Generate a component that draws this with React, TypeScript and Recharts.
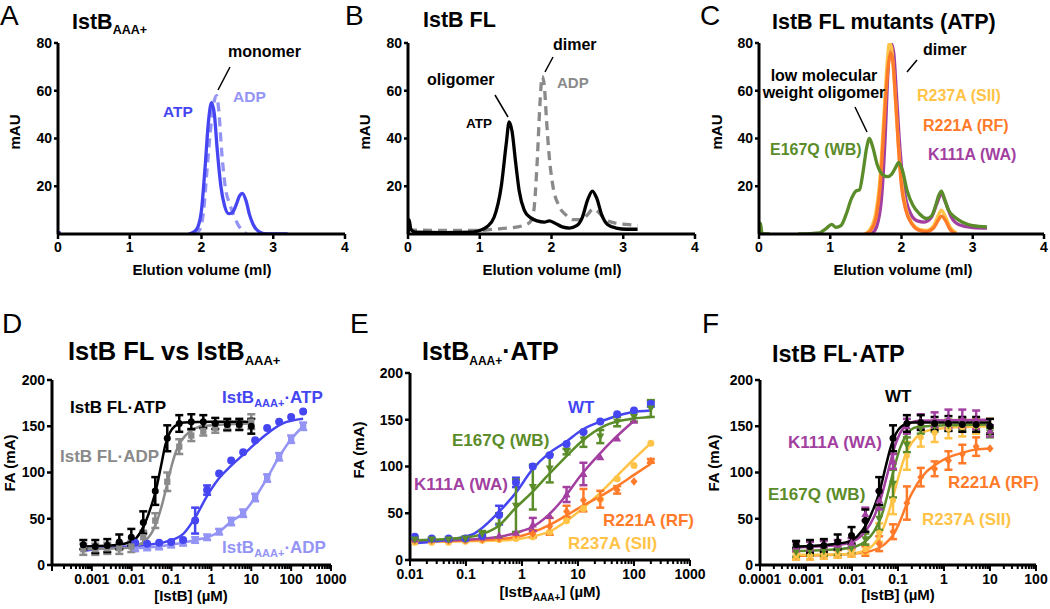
import React from 'react';
import { ComposedChart, Line, Scatter, XAxis, YAxis, ErrorBar } from 'recharts';

const FONT = '"Liberation Sans", Arial, Helvetica, sans-serif';
const COL = {
  blue: '#4545f2', lblue: '#9494f5', grey: '#8a8a8a', black: '#000000',
  green: '#5b8c2a', orange: '#ff7b2a', yellow: '#ffc347', purple: '#a23fa0',
};

// ---------- top row: elution traces (ml, mAU) ----------
const volTicks = [0, 1, 2, 3, 4];
const mauTicks = [20, 40, 60, 80];

const aATP: [number, number | null][] = [[0, 0.5], [0.04, 0.5], [0.05, null], [1.82, 0], [1.9, 1], [1.95, 3], [2.0, 10], [2.05, 28], [2.1, 48], [2.14, 55], [2.18, 50], [2.22, 35], [2.27, 20], [2.32, 12], [2.38, 8.5], [2.43, 9], [2.48, 12], [2.53, 16], [2.57, 17], [2.62, 14], [2.67, 8], [2.72, 4], [2.8, 1], [2.9, 0], [3.2, 0]];
const aADP: [number, number | null][] = [[1.9, 0], [1.98, 2], [2.03, 10], [2.08, 28], [2.13, 45], [2.18, 56], [2.21, 58], [2.24, 52], [2.28, 35], [2.33, 20], [2.4, 12], [2.46, 7], [2.55, 2], [2.63, 0]];
const bATP: [number, number | null][] = [[0, 0], [0.015, 6], [0.04, 2], [0.1, 0.8], [0.5, 0.6], [0.9, 0.8], [1.0, 1.5], [1.1, 3], [1.2, 7], [1.3, 20], [1.37, 38], [1.41, 47], [1.45, 43], [1.5, 30], [1.55, 18], [1.62, 10], [1.7, 7], [1.8, 5.5], [1.9, 5], [1.97, 5.5], [2.05, 4.5], [2.15, 3], [2.25, 2.5], [2.35, 3.5], [2.43, 7], [2.5, 14], [2.57, 18], [2.63, 15], [2.7, 8], [2.78, 4], [2.9, 2.5], [3.05, 2], [3.2, 2]];
const bADP: [number, number | null][] = [[0, 1.7], [0.5, 1.5], [1.0, 1.5], [1.2, 2], [1.4, 2.5], [1.6, 3.5], [1.7, 5], [1.75, 9], [1.8, 30], [1.84, 55], [1.87, 66], [1.9, 62], [1.93, 48], [1.97, 32], [2.02, 20], [2.1, 12], [2.2, 8], [2.3, 6], [2.4, 6], [2.5, 8], [2.58, 10.5], [2.66, 9], [2.75, 6], [2.9, 4.5], [3.05, 4], [3.2, 3.5]];
const cGreen: [number, number | null][] = [[0, 0], [0.02, 4.5], [0.04, 0.5], [0.08, 0], [0.15, 0], [0.3, null], [0.55, 0], [0.85, 0.5], [0.95, 2.5], [1.02, 4], [1.08, 2.8], [1.15, 3.5], [1.22, 8], [1.3, 15], [1.36, 18], [1.41, 18.5], [1.46, 26], [1.51, 36], [1.55, 40], [1.6, 36], [1.66, 29], [1.73, 25], [1.8, 24], [1.86, 25], [1.92, 28], [1.96, 30], [2.01, 27], [2.08, 18], [2.16, 12], [2.25, 8.5], [2.35, 6.5], [2.42, 7.5], [2.48, 12], [2.52, 16], [2.56, 18], [2.6, 15], [2.66, 10], [2.75, 7], [2.85, 5], [3.0, 3.5], [3.2, 3]];
const cOrange: [number, number | null][] = [[1.5, 0], [1.58, 2], [1.65, 8], [1.7, 20], [1.74, 38], [1.78, 58], [1.82, 72], [1.85, 76], [1.88, 72], [1.92, 55], [1.96, 35], [2.0, 20], [2.06, 10], [2.15, 4], [2.25, 1.5], [2.35, 1], [2.45, 2.5], [2.52, 6], [2.56, 7.5], [2.62, 5.5], [2.68, 2], [2.77, 0]];
const cYellow: [number, number | null][] = [[1.48, 0], [1.56, 2], [1.64, 9], [1.7, 24], [1.75, 48], [1.8, 72], [1.83, 80], [1.86, 78], [1.9, 63], [1.95, 40], [2.0, 22], [2.06, 11], [2.15, 4.5], [2.25, 2], [2.35, 1.5], [2.45, 3.5], [2.52, 8], [2.56, 10], [2.62, 7], [2.68, 3], [2.77, 0.5]];
const cPurple: [number, number | null][] = [[1.58, 0], [1.65, 3], [1.72, 15], [1.77, 40], [1.81, 68], [1.85, 80], [1.89, 76], [1.93, 58], [1.98, 35], [2.04, 18], [2.12, 9], [2.22, 5.5], [2.32, 5], [2.42, 7], [2.5, 13], [2.56, 17], [2.62, 13], [2.7, 7], [2.8, 4], [3.0, 2.7], [3.2, 2.5]];

// ---------- bottom row: binding titrations (µM, FA mA) ----------
const faTicks = [0, 50, 100, 150, 200];
const dMajor = [0.0001, 0.001, 0.01, 0.1, 1, 10, 100, 1000];
const dMajorLabels = ['', '0.001', '0.01', '0.1', '1', '10', '100', '1000'];
const eMajor = [0.01, 0.1, 1, 10, 100, 1000];
const eMajorLabels = ['0.01', '0.1', '1', '10', '100', '1000'];
const fMajor = [0.0001, 0.001, 0.01, 0.1, 1, 10, 100];
const fMajorLabels = ['0.0001', '0.001', '0.01', '0.1', '1', '10', '100'];

const flConc = [0.00061, 0.00122, 0.00244, 0.00488, 0.00977, 0.0195, 0.039, 0.078, 0.156, 0.3125, 0.625, 1.25, 2.5, 5, 10];
const aaaConc = [0.0122, 0.0244, 0.0488, 0.0977, 0.195, 0.39, 0.78, 1.56, 3.125, 6.25, 12.5, 25, 50, 100, 200];
const aaaConc14 = [0.0122, 0.0244, 0.0488, 0.0977, 0.195, 0.39, 0.78, 1.56, 3.125, 6.25, 12.5, 25, 50, 100];

// Panel D
const dFlAtp = [22, 20, 21, 25, 30, 46, 80, 137, 153, 155, 155, 153, 152, 152, 150];
const dFlAtpErr = [5, 7, 7, 8, 9, 12, 15, 14, 9, 8, 7, 6, 6, 6, 8];
const dFlAdp = [17, 17, 18, 18, 20, 30, 48, 90, 128, 140, 145, 148, 150, 151, 155];
const dFlAdpErr = [6, 6, 6, 6, 6, 7, 8, 10, 8, 6, 5, 5, 5, 5, 8];
const dAaaAtp = [24, 23, 24, 25, 27, 48, 81, 99, 113, 122, 135, 148, 155, 160, 166];
const dAaaAtpErr = [0, 0, 0, 0, 0, 14, 5, 0, 0, 0, 0, 0, 0, 0, 0];
const dAaaAdp = [18, 19, 20, 22, 24, 27, 30, 36, 47, 56, 73, 94, 117, 136, 150];
const dAaaAdpErr = [3, 3, 3, 3, 3, 3, 3, 3, 4, 4, 4, 4, 4, 4, 4];
const dFlAtpFit: [number, number][] = [[0.0006, 20], [0.003, 21], [0.008, 24], [0.013, 29], [0.02, 42], [0.03, 62], [0.04, 80], [0.055, 108], [0.07, 130], [0.09, 143], [0.12, 150], [0.2, 154], [1, 155], [10, 155]];
const dFlAdpFit: [number, number][] = [[0.0006, 17], [0.005, 18], [0.012, 20], [0.02, 25], [0.03, 33], [0.045, 50], [0.06, 68], [0.08, 90], [0.1, 107], [0.13, 123], [0.18, 135], [0.3, 145], [0.6, 150], [2, 152], [10, 153]];
const dAaaAtpFit: [number, number][] = [[0.0006, 15], [0.002, 18], [0.008, 20], [0.025, 22], [0.07, 25], [0.2, 34], [0.4, 52], [0.76, 74], [1.5, 93], [2.9, 106], [6.2, 119], [12.4, 131], [25, 142], [62, 153], [200, 158]];

// Panel E
const eWT = [25, 23, 23, 23, 26, 48, 83, 100, 112, 124, 137, 148, 156, 160, 167];
const eWTErr = [0, 0, 0, 0, 0, 10, 5, 0, 0, 0, 0, 0, 0, 0, 3];
const eWB = [22, 22, 22, 23, 28, 37, 58, 78, 98, 116, 129, 132, 148, 153, 162];
const eWBErr = [1, 1, 1, 2, 3, 13, 28, 24, 15, 3, 8, 7, 5, 5, 9];
const eWA = [22, 22, 22, 23, 24, 26, 29, 38, 47, 70, 92, 110, 130, 149];
const eWAErr = [0, 0, 0, 0, 0, 0, 0, 7, 0, 8, 12, 0, 0, 0];
const eRF = [21, 21, 21, 21, 22, 23, 27, 28, 36, 52, 64, 65, 75, 84, 106];
const eRFErr = [0, 0, 0, 0, 0, 0, 0, 4, 9, 6, 12, 9, 4, 0, 2];
const eSII = [19, 19, 19, 20, 21, 22, 23, 25, 30, 42, 55, 65, 87, 101, 125];
const eWTFit: [number, number][] = [[0.0122, 18], [0.04, 21], [0.126, 27], [0.38, 51], [0.8, 73], [1.49, 96], [3, 114], [6, 126], [11.7, 139], [31, 150], [90, 158], [200, 160]];
const eWBFit: [number, number][] = [[0.0122, 21], [0.1, 24], [0.2, 28], [0.39, 37], [0.75, 55], [1.49, 72], [2.95, 91], [6, 110], [11.7, 127], [31, 144], [90, 151], [200, 153]];
const eWAFit: [number, number][] = [[0.0122, 20], [0.2, 23], [0.5, 26], [1, 31], [1.49, 35], [2.95, 48], [5.9, 68], [11.7, 92], [23, 112], [45, 130], [100, 149]];
const eRFFit: [number, number][] = [[0.0122, 20], [0.3, 22], [1, 26], [3, 37], [6, 47], [12, 58], [25, 68], [50, 79], [100, 91], [200, 103]];
const eSIIFit: [number, number][] = [[0.0122, 19], [0.5, 21], [1.5, 25], [3, 30], [6, 41], [12, 55], [25, 72], [50, 90], [100, 108], [200, 125]];

// Panel F
const fWT = [22, 20, 21, 25, 32, 48, 80, 137, 153, 154, 153, 153, 152, 152, 150];
const fWTErr = [4, 7, 7, 8, 9, 12, 15, 14, 9, 8, 7, 8, 8, 8, 8];
const fWA = [20, 20, 21, 22, 24, 55, 70, 112, 150, 155, 157, 158, 158, 157, 145];
const fWAErr = [5, 5, 5, 5, 5, 7, 10, 8, 8, 8, 8, 10, 10, 10, 6];
const fWB = [14, 15, 15, 16, 18, 28, 50, 88, 130, 148, 150, 151, 152, 150, 143];
const fWBErr = [5, 5, 5, 5, 5, 6, 12, 15, 8, 6, 6, 6, 6, 6, 5];
const fSII = [10, 10, 11, 12, 13, 17, 35, 70, 118, 138, 143, 147, 149, 150, 150];
const fSIIErr = [4, 4, 4, 4, 4, 5, 10, 15, 15, 10, 10, 10, 10, 8, 8];
const fRF = [10, 10, 11, 12, 13, 15, 23, 36, 67, 95, 104, 113, 120, 128, 126];
const fRFErr = [4, 4, 4, 4, 4, 5, 8, 8, 18, 10, 8, 10, 10, 10, 0];
const fWTFit: [number, number][] = [[0.0006, 20], [0.003, 22], [0.008, 25], [0.013, 31], [0.02, 43], [0.03, 62], [0.04, 80], [0.055, 108], [0.07, 128], [0.09, 142], [0.12, 150], [0.2, 154], [1, 154], [10, 154]];
const fWAFit: [number, number][] = [[0.0006, 19], [0.004, 21], [0.01, 25], [0.02, 37], [0.03, 52], [0.04, 68], [0.06, 100], [0.08, 124], [0.11, 142], [0.16, 152], [0.3, 156], [10, 157]];
const fWBFit: [number, number][] = [[0.0006, 15], [0.005, 17], [0.012, 20], [0.02, 26], [0.03, 36], [0.045, 55], [0.06, 77], [0.08, 102], [0.11, 126], [0.15, 140], [0.25, 149], [1, 151], [10, 152]];
const fSIIFit: [number, number][] = [[0.0006, 11], [0.008, 12], [0.02, 16], [0.035, 27], [0.05, 42], [0.07, 65], [0.09, 85], [0.12, 107], [0.16, 124], [0.25, 138], [0.5, 146], [2, 149], [10, 150]];
const fRFFit: [number, number][] = [[0.0006, 10], [0.01, 12], [0.025, 15], [0.05, 22], [0.08, 33], [0.11, 47], [0.155, 66], [0.25, 86], [0.4, 100], [0.64, 108], [1.2, 116], [2.4, 121], [5, 125], [10, 126]];

// ---------- helpers ----------
const pts = (arr: [number, number | null][]) => arr.map(([x, y]) => ({ x, y }));
// log-axis helpers: concentrations are placed on a linear axis of log10(concentration)
const lg = (v: number) => Math.log10(v);
const logPts = (arr: [number, number][]) => arr.map(([x, y]) => ({ x: lg(x), y }));
const zipLogPts = (xs: number[], ys: number[], es?: number[]) => ys.map((y, i) => ({ x: lg(xs[i]), y, e: es ? es[i] : 0 }));

const logTicks = (majors: number[]) => {
  const out: number[] = [];
  majors.forEach((m, i) => {
    out.push(lg(m));
    if (i < majors.length - 1) for (let k = 2; k < 10; k++) out.push(lg(m * k));
  });
  return out;
};

const tickText = { fill: '#000', fontSize: 14, fontWeight: 700, fontFamily: FONT };

const makeLogTick = (majors: number[], labels: string[]) => (props: any) => {
  const { x, y, payload } = props;
  const v = payload.value;
  const i = majors.findIndex((m) => Math.abs(lg(m) - v) < 1e-6);
  const major = i >= 0;
  return (
    <g>
      <line x1={x} x2={x} y1={y} y2={y + (major ? 6 : 4)} stroke="#000" strokeWidth={2} />
      {major && labels[i] !== '' ? (
        <text x={x} y={y + 19} textAnchor="middle" fontSize={14} fontWeight={700} fontFamily={FONT} fill="#000">
          {labels[i]}
        </text>
      ) : null}
    </g>
  );
};

const markerFn = (kind: string, color: string, r = 4) => (p: any) => {
  const { cx, cy } = p;
  if (cx == null || cy == null || isNaN(cx) || isNaN(cy)) return <g />;
  switch (kind) {
    case 'square':
      return <rect x={cx - r * 0.9} y={cy - r * 0.9} width={r * 1.8} height={r * 1.8} fill={color} />;
    case 'tri':
      return <polygon points={`${cx},${cy - r * 1.2} ${cx - r * 1.15},${cy + r * 0.85} ${cx + r * 1.15},${cy + r * 0.85}`} fill={color} />;
    case 'itri':
      return <polygon points={`${cx},${cy + r * 1.2} ${cx - r * 1.15},${cy - r * 0.85} ${cx + r * 1.15},${cy - r * 0.85}`} fill={color} />;
    case 'diamond':
      return <polygon points={`${cx},${cy - r * 1.2} ${cx + r},${cy} ${cx},${cy + r * 1.2} ${cx - r},${cy}`} fill={color} />;
    default:
      return <circle cx={cx} cy={cy} r={r} fill={color} />;
  }
};

type Trace = { data: [number, number | null][]; color: string; dashed?: boolean };

function TracePanel({ left, top, width, traces }: { left: number; top: number; width: number; traces: Trace[] }) {
  return (
    <div style={{ position: 'absolute', left, top }}>
      <ComposedChart width={width} height={231} margin={{ top: 10, right: 5, bottom: 0, left: 0 }}>
        <XAxis type="number" dataKey="x" domain={[0, 4]} allowDataOverflow ticks={volTicks} interval={0}
          tickSize={5} tickMargin={3} height={30}
          tickLine={{ stroke: '#000', strokeWidth: 2.5 }} axisLine={{ stroke: '#000', strokeWidth: 3 }} tick={tickText} />
        <YAxis type="number" domain={[0, 80]} allowDataOverflow ticks={mauTicks} interval={0} width={40}
          tickSize={4} tickMargin={2}
          tickLine={{ stroke: '#000', strokeWidth: 2.5 }} axisLine={{ stroke: '#000', strokeWidth: 3 }} tick={tickText} />
        {traces.map((t, i) => (
          <Line key={'t' + i} data={pts(t.data)} dataKey="y" type="monotone" stroke={t.color} strokeWidth={3.3}
            strokeDasharray={t.dashed ? '9 6' : undefined} dot={false} activeDot={false}
            connectNulls={false} isAnimationActive={false} />
        ))}
      </ComposedChart>
    </div>
  );
}

type Bind = {
  xs: number[]; ys: number[]; es?: number[]; color: string; marker: string; r?: number;
  fit?: [number, number][]; connect?: boolean;
};

function BindPanel({ left, top, width, height, majors, labels, series }: {
  left: number; top: number; width: number; height: number;
  majors: number[]; labels: string[]; series: Bind[];
}) {
  const ticks = logTicks(majors);
  const domain = [lg(majors[0]), lg(majors[majors.length - 1])];
  const els: React.ReactElement[] = [];
  series.forEach((s, i) => {
    if (s.fit) {
      els.push(
        <Line key={'f' + i} data={logPts(s.fit)} dataKey="y" type="monotone" stroke={s.color} strokeWidth={2.5}
          dot={false} activeDot={false} isAnimationActive={false} />
      );
    }
    if (s.connect) {
      els.push(
        <Line key={'c' + i} data={zipLogPts(s.xs, s.ys)} dataKey="y" type="monotone" stroke={s.color} strokeWidth={2.5}
          dot={false} activeDot={false} isAnimationActive={false} />
      );
    }
    els.push(
      <Scatter key={'s' + i} data={zipLogPts(s.xs, s.ys, s.es)} dataKey="y" fill={s.color}
        shape={markerFn(s.marker, s.color, s.r ?? 4)} isAnimationActive={false}>
        {s.es ? <ErrorBar dataKey="e" direction="y" width={4} stroke={s.color} strokeWidth={2.5} /> : null}
      </Scatter>
    );
  });
  return (
    <div style={{ position: 'absolute', left, top }}>
      <ComposedChart width={width} height={height} margin={{ top: 10, right: 20, bottom: 0, left: 0 }}>
        <XAxis type="number" dataKey="x" domain={domain} allowDataOverflow ticks={ticks} interval={0}
          tickLine={false} tickSize={0} tickMargin={0} height={30}
          axisLine={{ stroke: '#000', strokeWidth: 3 }} tick={makeLogTick(majors, labels)} />
        <YAxis type="number" domain={[0, 200]} allowDataOverflow ticks={faTicks} interval={0} width={40}
          tickSize={5} tickMargin={2}
          tickLine={{ stroke: '#000', strokeWidth: 2.5 }} axisLine={{ stroke: '#000', strokeWidth: 3 }} tick={tickText} />
        {els}
      </ComposedChart>
    </div>
  );
}

const T = ({ x, y, size, color = '#000', anchor = 'start', weight = 700, children }: any) => (
  <text x={x} y={y} fontSize={size} fill={color} textAnchor={anchor} fontWeight={weight} fontFamily={FONT}>{children}</text>
);
const VT = ({ x, y, size, children }: any) => (
  <text transform={`translate(${x},${y}) rotate(-90)`} fontSize={size} fill="#000" textAnchor="middle" fontWeight={700} fontFamily={FONT}>{children}</text>
);

export default function App() {
  return (
    <div style={{ position: 'absolute', left: 0, top: 0, width: 1050, height: 609, background: '#fff', overflow: 'hidden' }}>
      <TracePanel left={18} top={33} width={332} traces={[
        { data: aADP, color: COL.lblue, dashed: true },
        { data: aATP, color: COL.blue },
      ]} />
      <TracePanel left={368} top={33} width={332} traces={[
        { data: bADP, color: COL.grey, dashed: true },
        { data: bATP, color: COL.black },
      ]} />
      <TracePanel left={719} top={33} width={330} traces={[
        { data: cPurple, color: COL.purple },
        { data: cYellow, color: COL.yellow },
        { data: cOrange, color: COL.orange },
        { data: cGreen, color: COL.green },
      ]} />

      <BindPanel left={12} top={370} width={339} height={225} majors={dMajor} labels={dMajorLabels}
        series={[
          { xs: aaaConc, ys: dAaaAdp, es: dAaaAdpErr, color: COL.lblue, marker: 'square', r: 3.5, connect: true },
          { xs: aaaConc, ys: dAaaAtp, es: dAaaAtpErr, color: COL.blue, marker: 'circle', r: 4, fit: dAaaAtpFit },
          { xs: flConc, ys: dFlAdp, es: dFlAdpErr, color: COL.grey, marker: 'square', r: 3.5, fit: dFlAdpFit },
          { xs: flConc, ys: dFlAtp, es: dFlAtpErr, color: COL.black, marker: 'circle', r: 3.5, fit: dFlAtpFit },
        ]} />
      <BindPanel left={370} top={363} width={340} height={227} majors={eMajor} labels={eMajorLabels}
        series={[
          { xs: aaaConc, ys: eSII, color: COL.yellow, marker: 'circle', r: 3.5, fit: eSIIFit },
          { xs: aaaConc, ys: eRF, es: eRFErr, color: COL.orange, marker: 'diamond', r: 3.5, fit: eRFFit },
          { xs: aaaConc14, ys: eWA, es: eWAErr, color: COL.purple, marker: 'tri', r: 3.5, fit: eWAFit },
          { xs: aaaConc, ys: eWT, es: eWTErr, color: COL.blue, marker: 'circle', r: 4, fit: eWTFit },
          { xs: aaaConc, ys: eWB, es: eWBErr, color: COL.green, marker: 'itri', r: 3.5, fit: eWBFit },
        ]} />
      <BindPanel left={720} top={370} width={336} height={225} majors={fMajor} labels={fMajorLabels}
        series={[
          { xs: flConc, ys: fRF, es: fRFErr, color: COL.orange, marker: 'diamond', r: 3.5, fit: fRFFit },
          { xs: flConc, ys: fSII, es: fSIIErr, color: COL.yellow, marker: 'circle', r: 3, fit: fSIIFit },
          { xs: flConc, ys: fWB, es: fWBErr, color: COL.green, marker: 'itri', r: 3.5, fit: fWBFit },
          { xs: flConc, ys: fWA, es: fWAErr, color: COL.purple, marker: 'tri', r: 3.5, fit: fWAFit },
          { xs: flConc, ys: fWT, es: fWTErr, color: COL.black, marker: 'circle', r: 3.5, fit: fWTFit },
        ]} />

      <svg width={1050} height={609} style={{ position: 'absolute', left: 0, top: 0, pointerEvents: 'none' }}>
        {/* panel letters */}
        <T x={0} y={25} size={28} weight={400}>A</T>
        <T x={345} y={25} size={28} weight={400}>B</T>
        <T x={700} y={25} size={28} weight={400}>C</T>
        <T x={2} y={333} size={28} weight={400}>D</T>
        <T x={350} y={333} size={28} weight={400}>E</T>
        <T x={702} y={333} size={28} weight={400}>F</T>

        {/* titles */}
        <T x={72} y={29} size={21.5}>IstB<tspan fontSize={12.5} dy={5}>AAA+</tspan></T>
        <T x={423} y={27} size={21.5}>IstB FL</T>
        <T x={772} y={29} size={21.5}>IstB FL mutants (ATP)</T>
        <T x={68} y={360} size={25.5}>IstB FL vs IstB<tspan fontSize={13} dy={5}>AAA+</tspan></T>
        <T x={422} y={360} size={25}>IstB<tspan fontSize={12} dy={5}>AAA+</tspan><tspan dy={-5}>·ATP</tspan></T>
        <T x={772} y={362} size={23.5}>IstB FL·ATP</T>

        {/* axis titles */}
        <VT x={20} y={132} size={15}>mAU</VT>
        <VT x={370} y={132} size={15}>mAU</VT>
        <VT x={722} y={132} size={15}>mAU</VT>
        <T x={202} y={275} size={15} anchor="middle">Elution volume (ml)</T>
        <T x={552} y={275} size={15} anchor="middle">Elution volume (ml)</T>
        <T x={903} y={275} size={15} anchor="middle">Elution volume (ml)</T>
        <VT x={15} y={463} size={15}>FA (mA)</VT>
        <VT x={364} y={450} size={15}>FA (mA)</VT>
        <VT x={719} y={463} size={15}>FA (mA)</VT>
        <T x={191} y={601} size={15} anchor="middle">[IstB] (µM)</T>
        <T x={550} y={597} size={15} anchor="middle">[IstB<tspan fontSize={10} dy={4}>AAA+</tspan><tspan dy={-4}>] (µM)</tspan></T>
        <T x={898} y={600} size={15} anchor="middle">[IstB] (µM)</T>

        {/* panel A annotations */}
        <T x={228} y={57} size={16}>monomer</T>
        <line x1={230} y1={67} x2={218} y2={90} stroke="#000" strokeWidth={1.5} />
        <T x={163} y={117} size={15.5} color={COL.blue}>ATP</T>
        <T x={233} y={102} size={15.5} color={COL.lblue}>ADP</T>

        {/* panel B annotations */}
        <T x={553} y={50} size={16}>dimer</T>
        <line x1={553} y1={57} x2={545} y2={72} stroke="#000" strokeWidth={1.5} />
        <T x={427} y={85} size={16}>oligomer</T>
        <line x1={495} y1={95} x2={508} y2={117} stroke="#000" strokeWidth={1.5} />
        <T x={466} y={128} size={13.5}>ATP</T>
        <T x={557} y={88} size={15} color={COL.grey}>ADP</T>

        {/* panel C annotations */}
        <T x={923} y={55} size={16}>dimer</T>
        <line x1={917} y1={60} x2={907} y2={72} stroke="#000" strokeWidth={1.5} />
        <T x={824} y={81} size={16} anchor="middle">low molecular</T>
        <T x={824} y={98} size={16} anchor="middle">weight oligomer</T>
        <line x1={855} y1={107} x2={867} y2={132} stroke="#000" strokeWidth={1.5} />
        <T x={770} y={155} size={16} color={COL.green}>E167Q (WB)</T>
        <T x={917} y={101} size={16} color={COL.yellow}>R237A (SII)</T>
        <T x={923} y={131} size={16} color={COL.orange}>R221A (RF)</T>
        <T x={928} y={160} size={16} color={COL.purple}>K111A (WA)</T>

        {/* panel D annotations */}
        <T x={70} y={413} size={17}>IstB FL·ATP</T>
        <T x={60} y={462} size={17} color={COL.grey}>IstB FL·ADP</T>
        <T x={222} y={403} size={17} color={COL.blue}>IstB<tspan fontSize={11} dy={4}>AAA+</tspan><tspan dy={-4}>·ATP</tspan></T>
        <T x={222} y={553} size={17} color={COL.lblue}>IstB<tspan fontSize={11} dy={4}>AAA+</tspan><tspan dy={-4}>·ADP</tspan></T>

        {/* panel E annotations */}
        <T x={568} y={413} size={17} color={COL.blue}>WT</T>
        <T x={452} y={446} size={17} color={COL.green}>E167Q (WB)</T>
        <T x={414} y={490} size={17} color={COL.purple}>K111A (WA)</T>
        <T x={603} y={526} size={17} color={COL.orange}>R221A (RF)</T>
        <T x={568} y={549} size={17} color={COL.yellow}>R237A (SII)</T>

        {/* panel F annotations */}
        <T x={885} y={402} size={17}>WT</T>
        <T x={788} y={448} size={17} color={COL.purple}>K111A (WA)</T>
        <T x={768} y={500} size={17} color={COL.green}>E167Q (WB)</T>
        <T x={948} y={488} size={17} color={COL.orange}>R221A (RF)</T>
        <T x={922} y={525} size={17} color={COL.yellow}>R237A (SII)</T>
      </svg>
    </div>
  );
}
